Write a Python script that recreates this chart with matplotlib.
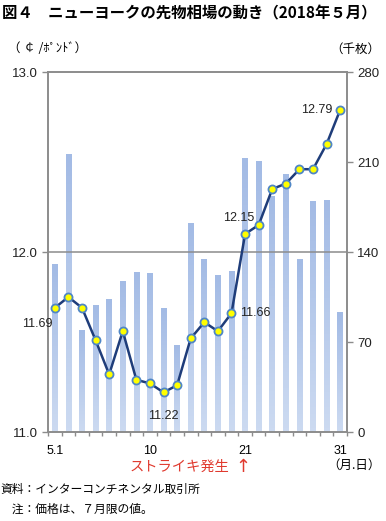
import numpy as np
import matplotlib
matplotlib.use("Agg")
import matplotlib.pyplot as plt
from matplotlib.colors import LinearSegmentedColormap

JP = ["Noto Sans CJK JP", "DejaVu Sans"]
NUM = ["Liberation Sans", "DejaVu Sans"]
plt.rcParams["font.family"] = JP

# trading days of May 2018 (22 sessions)
days = ["5.1", "2", "3", "4", "7", "8", "9", "10", "11", "14", "15",
        "16", "17", "18", "21", "22", "23", "24", "25", "29", "30", "31"]
price = [11.69, 11.75, 11.69, 11.51, 11.32, 11.56, 11.29, 11.27, 11.22, 11.26, 11.52,
         11.61, 11.56, 11.66, 12.10, 12.15, 12.35, 12.38, 12.46, 12.46, 12.60, 12.79]
volume = [130, 216, 79, 98, 103, 117, 124, 123, 96, 67, 162,
          134, 122, 125, 213, 210, 183, 200, 134, 179, 180, 93]
shown_ticks = {0: "5.1", 7: "10", 14: "21", 21: "31"}
labeled = {0: "11.69", 8: "11.22", 13: "11.66", 15: "12.15", 21: "12.79"}

GRAY = "#8c8c8c"
fig = plt.figure(figsize=(3.86, 5.21), dpi=100)
ax = fig.add_axes([0.1244, 0.1708, 0.7746, 0.691])
ax2 = ax.twinx()

x = np.arange(len(days))
w = 0.42
cmap = LinearSegmentedColormap.from_list("bar", ["#ccdaf1", "#a3bbe5"])
grad = np.linspace(0, 1, 64).reshape(-1, 1)
for xi, v in zip(x, volume):
    ax2.imshow(grad, extent=[xi - w / 2, xi + w / 2, 0, v], origin="lower",
               cmap=cmap, aspect="auto", zorder=1)
ax2.set_ylim(0, 280)
ax2.set_xlim(-0.5, len(days) - 0.5)
ax2.set_yticks([0, 70, 140, 210, 280])

ax.set_zorder(ax2.get_zorder() + 1)
ax.patch.set_visible(False)
ax.axhline(12.0, color=GRAY, lw=1.1, zorder=0)
ax.plot(x, price, color="#1f3d7a", lw=1.8, zorder=3,
        marker="o", ms=5.8, mfc="#ffff00", mec="#4f86c6", mew=1.3)
ax.set_ylim(11.0, 13.0)
ax.set_xlim(-0.5, len(days) - 0.5)
ax.set_yticks([11.0, 12.0, 13.0])
ax.set_yticklabels(["11.0", "12.0", "13.0"])
ax.set_xticks(np.arange(-0.5, len(days), 1.0))
ax.set_xticklabels([])
for i, t in shown_ticks.items():
    ax.text(i, 10.93, t, ha="center", va="top", fontsize=9, family=NUM)

for a in (ax, ax2):
    for s in a.spines.values():
        s.set_color(GRAY)
        s.set_linewidth(1.2)
    a.tick_params(colors=GRAY, labelcolor="#222222", labelsize=9.5, length=4, width=1)
for lab in ax.get_yticklabels() + ax2.get_yticklabels():
    lab.set_family(NUM)
ax.tick_params(axis="x", length=3)

# value labels
offs = {0: (-0.2, -0.09, "right", "center"), 8: (0, -0.1, "center", "top"),
        13: (0.6, 0, "left", "center"), 15: (-0.35, 0.04, "right", "center"),
        21: (-0.55, 0, "right", "center")}
for i, t in labeled.items():
    dx, dy, ha, va = offs[i]
    ax.text(i + dx, price[i] + dy, t, ha=ha, va=va, fontsize=9, family=NUM,
            color="#222222", zorder=4)

fig.text(0.005, 0.975, "図４　ニューヨークの先物相場の動き（2018年５月）",
         fontsize=11.1, fontweight="bold", ha="left", va="center")
fig.text(0.02, 0.906, "（ ￠ /ﾎﾟﾝﾄﾞ）", fontsize=9, ha="left", va="center")
fig.text(0.985, 0.906, "（千枚）", fontsize=9, ha="right", va="center")
fig.text(0.985, 0.107, "（月.日）", fontsize=9, ha="right", va="center")
fig.text(0.335, 0.104, "ストライキ発生", fontsize=10.3, color="#e03a2f", ha="left", va="center")
fig.text(0.63, 0.104, "↑", fontsize=13, color="#e03a2f", ha="center", va="center",
         family=["DejaVu Sans"])
fig.text(0.0, 0.06, "資料：インターコンチネンタル取引所", fontsize=8.5, ha="left", va="center")
fig.text(0.0, 0.022, "　注：価格は、７月限の値。", fontsize=8.5, ha="left", va="center")

fig.savefig("out.png", dpi=100)
